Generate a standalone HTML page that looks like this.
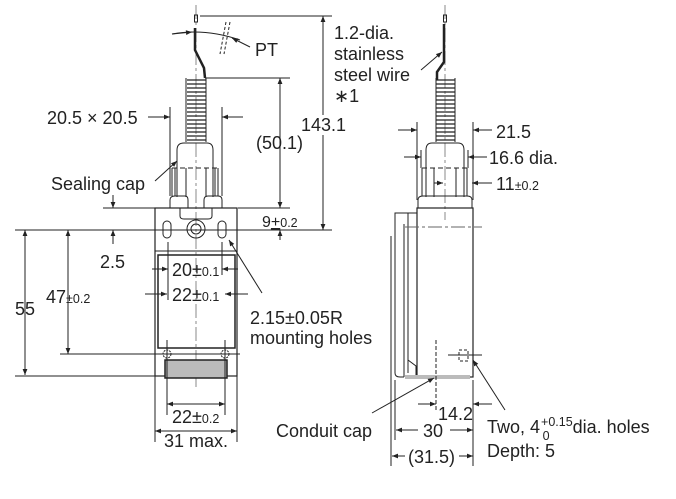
<!DOCTYPE html>
<html><head><style>
html,body{margin:0;padding:0;background:#fff;}
svg{display:block;}
text{font-family:"Liberation Sans",sans-serif;fill:#222;font-size:18px;}
.s{font-size:12.5px;}
</style></head><body>
<svg width="676" height="499" viewBox="0 0 676 499" xmlns="http://www.w3.org/2000/svg">
<defs>
<marker id="a" viewBox="0 0 10 10" refX="10" refY="5" markerWidth="9" markerHeight="6" orient="auto-start-reverse" markerUnits="userSpaceOnUse"><path d="M0,1 L10,5 L0,9z" fill="#222"/></marker>
</defs>
<g stroke="#222" stroke-width="1" fill="none">
<!-- FRONT VIEW -->
<line x1="196" y1="5" x2="196" y2="388" stroke="#888" stroke-dasharray="14,3,3,3"/>
<rect x="194.5" y="15" width="3" height="7"/>
<path d="M195,28 L195,50 L204,68 L205,78" stroke-width="2.5"/>
<path d="M187,80 h19 M187,84 h19 M187,88 h19 M187,92 h19 M187,96 h19 M187,100 h19 M187,104 h19 M187,108 h19 M187,112 h19 M187,116 h19 M187,120 h19 M187,124 h19 M187,128 h19 M187,132 h19 M187,136 h19 M187,140 h19" stroke-width="1.3"/>
<path d="M186,78 v64 M206,78 v64"/>
<path d="M177,197 L177,150 Q177,143 184,143 L207,143 Q213,143 213,150 L213,197"/>
<path d="M172,168 v28 M175,168 v28 M215,168 v28 M218,168 v28" />
<path d="M172,168 h46" stroke-dasharray="5,3"/>
<path d="M186,168 v29 M206,168 v29"/>
<path d="M170,208 v-8 q0,-4 5,-4 h10 q3,0 3,4 v8 M204,208 v-8 q0,-4 4,-4 h10 q4,0 4,4 v8"/>
<rect x="155" y="208" width="82" height="168" stroke-width="1.2"/>
<path d="M180,208 v8 q0,3 4,3 h24 q4,0 4,-3 v-8"/>
<rect x="158" y="255" width="77" height="93" stroke-width="1.5"/>
<line x1="155" y1="251" x2="237" y2="251"/>
<rect x="163" y="221" width="8" height="17" rx="4"/>
<rect x="218" y="221" width="8" height="17" rx="4"/>
<circle cx="196" cy="229" r="9"/><circle cx="196" cy="229" r="5"/>
<circle cx="167" cy="354" r="4" stroke-dasharray="2,1"/>
<circle cx="225" cy="354" r="4" stroke-dasharray="2,1"/>
<rect x="165" y="360" width="62" height="18" fill="#bbb" stroke-width="1.5"/>
<!-- PT -->
<path d="M172,34 Q205,28 240,40"/>
<path d="M226,22 L220,54 M230,22 L224,54" stroke-dasharray="3,2"/>
<line x1="250" y1="47" x2="232" y2="38" marker-end="url(#a)"/>
<line x1="172" y1="34" x2="192" y2="32" marker-end="url(#a)"/>
<!-- dims -->
<line x1="200" y1="16" x2="332" y2="16"/>
<line x1="323" y1="16" x2="323" y2="230" marker-start="url(#a)" marker-end="url(#a)"/>
<line x1="205" y1="78" x2="290" y2="78"/>
<line x1="280" y1="78" x2="280" y2="208" marker-start="url(#a)" marker-end="url(#a)"/>
<line x1="238" y1="208" x2="290" y2="208"/>
<line x1="15" y1="230" x2="332" y2="230"/>
<line x1="280" y1="240" x2="280" y2="230" marker-end="url(#a)"/>
<line x1="148" y1="117" x2="170" y2="117" marker-end="url(#a)"/>
<line x1="243" y1="117" x2="222" y2="117" marker-end="url(#a)"/>
<line x1="170" y1="107" x2="170" y2="196"/><line x1="222" y1="107" x2="222" y2="196"/>
<line x1="103" y1="208" x2="155" y2="208"/>
<line x1="113" y1="195" x2="113" y2="208" marker-end="url(#a)"/>
<line x1="113" y1="244" x2="113" y2="230" marker-end="url(#a)"/>
<line x1="25" y1="230" x2="25" y2="375" marker-start="url(#a)" marker-end="url(#a)"/>
<line x1="68" y1="230" x2="68" y2="354" marker-start="url(#a)" marker-end="url(#a)"/>
<line x1="60" y1="354" x2="240" y2="354"/>
<line x1="15" y1="376" x2="155" y2="376"/>
<line x1="152" y1="269" x2="168" y2="269" marker-end="url(#a)"/>
<line x1="238" y1="269" x2="222" y2="269" marker-end="url(#a)"/>
<line x1="145" y1="294" x2="167" y2="294" marker-end="url(#a)"/>
<line x1="248" y1="294" x2="225" y2="294" marker-end="url(#a)"/>
<line x1="168" y1="242" x2="168" y2="300"/><line x1="222" y1="242" x2="222" y2="275"/>
<line x1="167" y1="340" x2="167" y2="415"/><line x1="225" y1="340" x2="225" y2="415"/>
<line x1="167" y1="404" x2="225" y2="404" marker-start="url(#a)" marker-end="url(#a)"/>
<line x1="155" y1="376" x2="155" y2="442"/><line x1="237" y1="376" x2="237" y2="442"/>
<line x1="155" y1="431" x2="237" y2="431" marker-start="url(#a)" marker-end="url(#a)"/>
<line x1="262" y1="293" x2="229" y2="240" marker-end="url(#a)"/>
<line x1="155" y1="181" x2="177" y2="161" marker-end="url(#a)"/>
<!-- SIDE VIEW -->
<line x1="445" y1="5" x2="445" y2="220" stroke="#888" stroke-dasharray="14,3,3,3"/>
<rect x="443.5" y="15" width="3" height="7"/>
<path d="M444,24 L444,62 L437,72 L437,80" stroke-width="2.5"/>
<path d="M436,80 h19 M436,84 h19 M436,88 h19 M436,92 h19 M436,96 h19 M436,100 h19 M436,104 h19 M436,108 h19 M436,112 h19 M436,116 h19 M436,120 h19 M436,124 h19 M436,128 h19 M436,132 h19 M436,136 h19 M436,140 h19" stroke-width="1.3"/>
<path d="M436,78 v64 M455,78 v64"/>
<path d="M426,197 L426,150 Q426,143 432,143 L458,143 Q464,143 464,150 L464,197"/>
<path d="M422,168 v28 M467,168 v28" />
<path d="M422,168 h45" stroke-dasharray="5,3"/>
<path d="M434,168 v29 M456,168 v29"/>
<path d="M418,208 v-8 q0,-4 5,-4 h44 q5,0 5,4 v8"/>
<rect x="417" y="208" width="56" height="169" stroke-width="1.2"/>
<path d="M417,213 h-22 v160 q0,4 5,4 h4 M408,213 v160 M404,224 v153"/>
<path d="M408,360 l8,6 v10" />
<rect x="405" y="375" width="65" height="4" fill="#bbb" stroke="none"/>
<line x1="405" y1="227" x2="482" y2="227" stroke="#666" stroke-dasharray="14,3,3,3"/>
<rect x="459" y="350" width="9" height="11" stroke-dasharray="3,2"/>
<line x1="448" y1="355" x2="482" y2="355"/>
<line x1="436" y1="340" x2="436" y2="412" stroke-dasharray="4,2"/>
<line x1="391" y1="236" x2="391" y2="466"/><line x1="395" y1="380" x2="395" y2="440"/>
<line x1="473" y1="380" x2="473" y2="466"/>
<line x1="398" y1="130" x2="417" y2="130" marker-end="url(#a)"/>
<line x1="492" y1="130" x2="473" y2="130" marker-end="url(#a)"/>
<line x1="417" y1="122" x2="417" y2="200"/><line x1="473" y1="122" x2="473" y2="200"/>
<line x1="404" y1="157" x2="421" y2="157" marker-end="url(#a)"/>
<line x1="487" y1="157" x2="468" y2="157" marker-end="url(#a)"/>
<line x1="421" y1="150" x2="421" y2="168"/><line x1="468" y1="150" x2="468" y2="168"/>
<line x1="434" y1="183" x2="443" y2="183" marker-end="url(#a)"/>
<line x1="492" y1="183" x2="472" y2="183" marker-end="url(#a)"/>
<line x1="418" y1="404" x2="436" y2="404" marker-end="url(#a)"/>
<line x1="492" y1="404" x2="473" y2="404" marker-end="url(#a)"/>
<line x1="418" y1="430" x2="396" y2="430" marker-end="url(#a)"/>
<line x1="450" y1="430" x2="473" y2="430" marker-end="url(#a)"/>
<line x1="405" y1="456" x2="392" y2="456" marker-end="url(#a)"/>
<line x1="459" y1="456" x2="473" y2="456" marker-end="url(#a)"/>
<line x1="372" y1="413" x2="434" y2="378" marker-end="url(#a)"/>
<line x1="505" y1="410" x2="473" y2="360" marker-end="url(#a)"/>
<line x1="421" y1="70" x2="442" y2="52" marker-end="url(#a)"/>
</g>
<!-- TEXT -->
<rect x="302" y="115" width="36" height="20" fill="#fff"/>
<text x="255" y="56">PT</text>
<text x="334" y="39">1.2-dia.</text>
<text x="334" y="60">stainless</text>
<text x="334" y="81">steel wire</text>
<text x="334" y="102">∗1</text>
<text x="47" y="124">20.5 × 20.5</text>
<text x="256" y="149">(50.1)</text>
<text x="301" y="131">143.1</text>
<text x="51" y="190">Sealing cap</text>
<text x="262" y="227" style="font-size:16px">9<tspan text-decoration="underline">+</tspan><tspan class="s">0.2</tspan></text>
<text x="100" y="268">2.5</text>
<text x="15" y="315">55</text>
<text x="46" y="303">47<tspan class="s">±0.2</tspan></text>
<text x="172" y="276">20±<tspan class="s">0.1</tspan></text>
<text x="172" y="301">22±<tspan class="s">0.1</tspan></text>
<text x="250" y="324">2.15±0.05R</text>
<text x="250" y="344">mounting holes</text>
<text x="172" y="423">22±<tspan class="s">0.2</tspan></text>
<text x="164" y="447">31 max.</text>
<text x="496" y="138">21.5</text>
<text x="489" y="164">16.6 dia.</text>
<text x="496" y="190">11<tspan class="s">±0.2</tspan></text>
<text x="438" y="420">14.2</text>
<text x="276" y="437">Conduit cap</text>
<text x="423" y="437">30</text>
<text x="408" y="463">(31.5)</text>
<text x="487" y="433">Two, 4<tspan class="s" dx="1" dy="-7">+0.15</tspan><tspan class="s" dx="-30" dy="14">0</tspan><tspan dx="23" dy="-7">dia. holes</tspan></text>
<text x="487" y="457">Depth: 5</text>
</svg>
</body></html>
